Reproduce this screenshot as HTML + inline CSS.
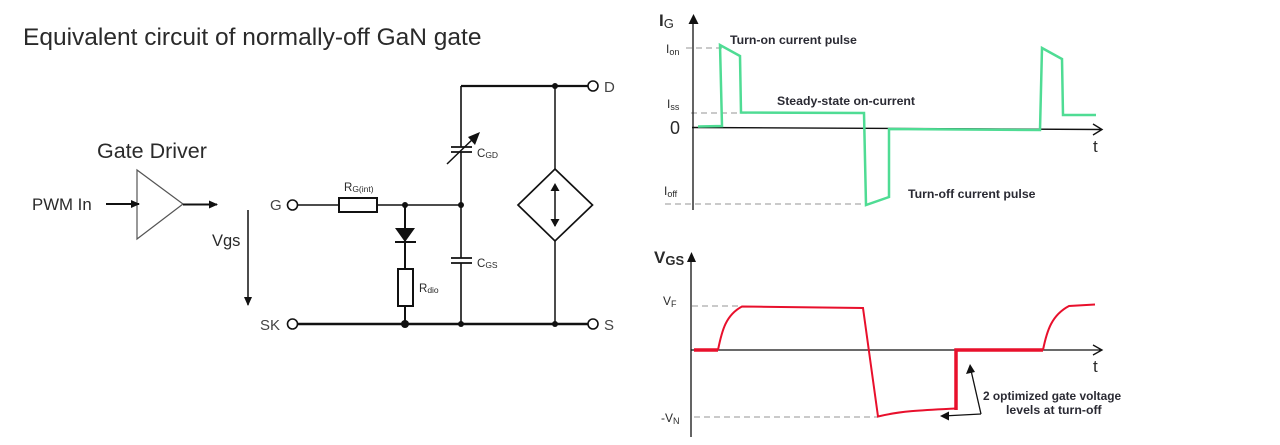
<!DOCTYPE html>
<html><head><meta charset="utf-8"><style>
html,body{margin:0;padding:0;background:#fff;width:1280px;height:445px;overflow:hidden}
svg{display:block;filter:blur(0.35px)}
text{font-family:"Liberation Sans",sans-serif;fill:#2a2a2a}
.b{font-weight:bold;font-size:12.3px;fill:#2a2a33}
</style></head><body>
<svg width="1280" height="445" viewBox="0 0 1280 445" xmlns="http://www.w3.org/2000/svg">
<defs>
<marker id="a" markerWidth="10" markerHeight="8" refX="8" refY="4" orient="auto" markerUnits="userSpaceOnUse"><path d="M0 0L9 4L0 8Z" fill="#111"/></marker>
</defs>
<text x="23" y="45" font-size="24.5">Equivalent circuit of normally-off GaN gate</text>
<text x="97" y="158" font-size="21.5">Gate Driver</text>
<text x="32" y="210" font-size="16.8">PWM In</text>
<text x="212" y="246" font-size="16.5">Vgs</text>
<path d="M137 170V239L183 204Z" fill="#fff" stroke="#555" stroke-width="1.2"/>
<path d="M106 204H139" stroke="#111" stroke-width="2" marker-end="url(#a)"/>
<path d="M183 204.500H217" stroke="#111" stroke-width="2" marker-end="url(#a)"/>
<path d="M248 210V305" stroke="#111" stroke-width="1.500" marker-end="url(#a)"/>
<g fill="none" stroke="#111">
<path d="M297 205H339M377 205H461" stroke-width="1.500"/>
<path d="M297 324H588" stroke-width="2.500"/>
<path d="M461 86H588" stroke-width="2.200"/>
<path d="M461 86V147M461 152V258M461 263V324" stroke-width="1.600"/>
<path d="M555 86V169M555 241V324" stroke-width="1.500"/>
<path d="M405 205V324" stroke-width="2"/>
<rect x="339" y="198" width="38" height="14" stroke-width="2" fill="#fff"/>
<rect x="398" y="269" width="15" height="37" stroke-width="2" fill="#fff"/>
<path d="M555 169L592.500 205L555 241L518 205Z" stroke-width="1.700" fill="#fff"/>
<path d="M451 147H472M451 152H472M451 258H472M451 263H472" stroke-width="1.800"/>
<path d="M447 164L476 136" stroke-width="1.500"/>
<path d="M395 242H416" stroke-width="2"/>
<circle cx="292.500" cy="205" r="5" stroke-width="1.600" fill="#fff"/>
<circle cx="292.500" cy="324" r="5" stroke-width="1.600" fill="#fff"/>
<circle cx="593" cy="86" r="5" stroke-width="1.600" fill="#fff"/>
<circle cx="593" cy="324" r="5" stroke-width="1.600" fill="#fff"/>
<path d="M555 186V226" stroke-width="1.500"/>
</g>
<path d="M555 183L559.500 191H550.500ZM555 227L559.500 219H550.500Z" fill="#111"/>
<path d="M395 228H415L405 242Z" fill="#111"/>
<path d="M480 132L468 137L475 145Z" fill="#111"/>
<g fill="#111"><circle cx="405" cy="205" r="3"/><circle cx="461" cy="205" r="3"/><circle cx="555" cy="86" r="3"/><circle cx="405" cy="324" r="4"/><circle cx="461" cy="324" r="3"/><circle cx="555" cy="324" r="3"/></g>
<text x="270" y="210" font-size="15" style="fill:#444">G</text>
<text x="260" y="330" font-size="15" style="fill:#444">SK</text>
<text x="604" y="92" font-size="15" style="fill:#444">D</text>
<text x="604" y="330" font-size="15" style="fill:#444">S</text>
<text x="344" y="191" font-size="11.500">R<tspan font-size="8.500" dy="1">G(int)</tspan></text>
<text x="419" y="292" font-size="11.500">R<tspan font-size="8.500" dy="1">dio</tspan></text>
<text x="477" y="157" font-size="11.500">C<tspan font-size="8.500" dy="1">GD</tspan></text>
<text x="477" y="267" font-size="11.500">C<tspan font-size="8.500" dy="1">GS</tspan></text>
<!-- top chart -->
<g fill="none" stroke="#aaa" stroke-width="1.200" stroke-dasharray="6 4">
<path d="M686 48H722M691 113H748M665 204H866M692 306H742M694 417H878"/>
</g>
<path d="M693 210V20" stroke="#111" stroke-width="1.300" fill="none"/>
<path d="M693.500 14L698.500 24H688.500Z" fill="#111"/>
<path d="M692 127.500L1102 129.500M1093 124L1102 129.500L1093 135" stroke="#111" stroke-width="1.400" fill="none"/>
<path d="M698 126.500L722 126L720 45L740 56L741 112.500L864 113L866 205L889 197L889 129L1040 130L1042 48L1062 59L1063 115L1096 115" fill="none" stroke="#4fdc94" stroke-width="2.500"/>
<text x="659" y="26" font-size="17" font-weight="bold">I<tspan font-size="13" font-weight="normal" dy="2">G</tspan></text>
<text x="666" y="53" font-size="12">I<tspan font-size="9" dy="2">on</tspan></text>
<text x="667" y="108" font-size="12">I<tspan font-size="9" dy="2">ss</tspan></text>
<text x="664" y="195" font-size="12">I<tspan font-size="9" dy="2">off</tspan></text>
<text x="670" y="134" font-size="18">0</text>
<text x="1093" y="152" font-size="17">t</text>
<text class="b" x="730" y="44">Turn-on current pulse</text>
<text class="b" x="777" y="105">Steady-state on-current</text>
<text class="b" x="908" y="198">Turn-off current pulse</text>
<!-- bottom chart -->
<path d="M691 437V258" stroke="#111" stroke-width="1.300" fill="none"/>
<path d="M691.500 252L696 262H687Z" fill="#111"/>
<path d="M691 350H1102M1093 345L1102 350L1093 355" stroke="#111" stroke-width="1.300" fill="none"/>
<path d="M718 350C722 330 726 315 742 306.500L863 308L878 416.500C900 411 925 410 955 408.500" fill="none" stroke="#e8102c" stroke-width="2"/>
<path d="M694 350H718M956 410V350H1043" fill="none" stroke="#e8102c" stroke-width="3.500"/>
<path d="M1043 350C1047 330 1052 315 1069 306L1095 304.500" fill="none" stroke="#e8102c" stroke-width="2"/>
<path d="M981 414L970 366" stroke="#111" stroke-width="1.300" fill="none"/>
<path d="M981 414L943 416" stroke="#111" stroke-width="1.300" fill="none"/>
<path d="M970 364L966 374L975 372ZM940 416L949 411.500L949 420.500Z" fill="#111"/>
<text x="654" y="263" font-size="17" font-weight="bold">V<tspan font-size="13" dy="2">GS</tspan></text>
<text x="663" y="305" font-size="12">V<tspan font-size="9" dy="2">F</tspan></text>
<text x="661" y="422" font-size="12">-V<tspan font-size="9" dy="2">N</tspan></text>
<text x="1093" y="372" font-size="17">t</text>
<text class="b" x="983" y="400" style="font-size:11.9px">2 optimized gate voltage</text>
<text class="b" x="1006" y="414">levels at turn-off</text>
</svg>
</body></html>
